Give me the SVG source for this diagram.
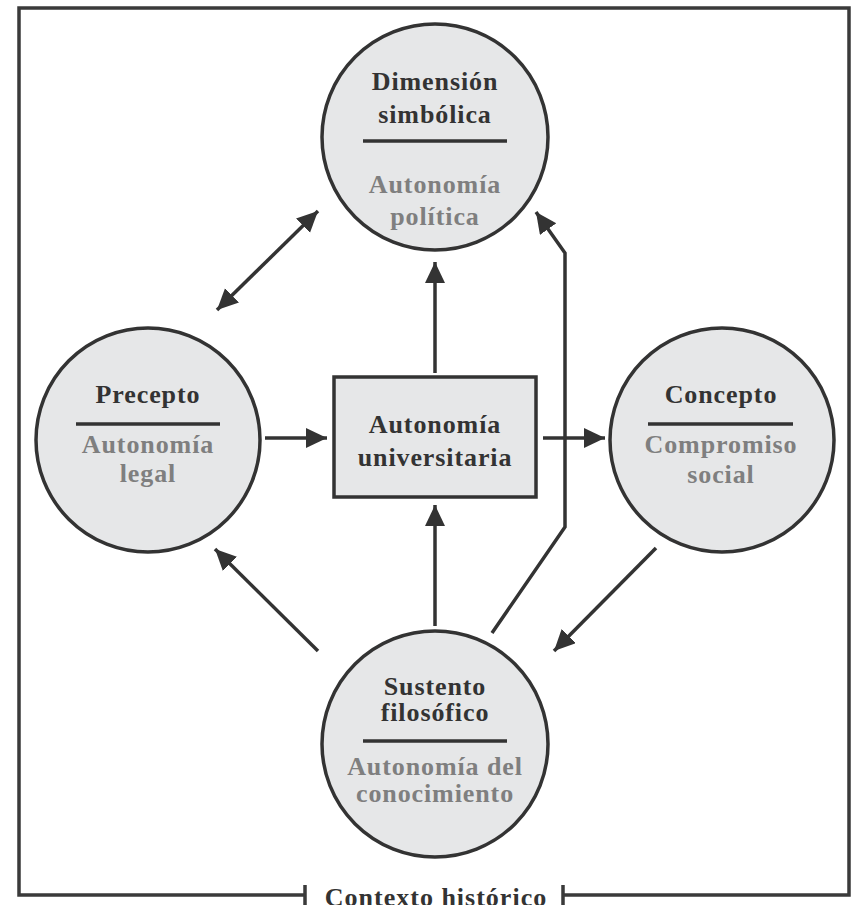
<svg xmlns="http://www.w3.org/2000/svg" width="856" height="905" viewBox="0 0 856 905">
<style>
.node circle, .node rect {fill:#e6e7e8; stroke:#333; stroke-width:3.5}
.t {font-family:"Liberation Serif","Times New Roman",serif; font-weight:bold; font-size:26px; letter-spacing:0.9px; text-anchor:middle; fill:#333}
.s {fill:#7f7f7f}
.div {stroke:#333; stroke-width:3.5}
.conn path {stroke:#333; stroke-width:3.5; fill:none}
.frame {stroke:#3a3a3a; stroke-width:3.5; fill:none}
</style>
<defs>
<marker id="ah" markerUnits="userSpaceOnUse" markerWidth="24" markerHeight="22" refX="21" refY="10" orient="auto-start-reverse">
<path d="M0,0 L21,10 L0,20 z" fill="#333"/>
</marker>
</defs>
<rect width="856" height="905" fill="#fff"/>
<g id="frame">
<path class="frame" d="M305,895 H19 V8 H849 V895 H563"/>
<path class="frame" d="M305,885 V905 M563,885 V905"/>
<text class="t" x="436" y="906" style="font-size:26px;letter-spacing:1px">Contexto histórico</text>
</g>
<g id="connectors" class="conn">
<path d="M217,310 L318,211" marker-start="url(#ah)" marker-end="url(#ah)"/>
<path d="M435,373 V262" marker-end="url(#ah)"/>
<path d="M265,438 H327" marker-end="url(#ah)"/>
<path d="M543,438 H605" marker-end="url(#ah)"/>
<path d="M435,626 V505" marker-end="url(#ah)"/>
<path d="M318,651 L215,549" marker-end="url(#ah)"/>
<path d="M656,548 L554,651" marker-end="url(#ah)"/>
<path d="M492,633 L565,527 L565,253 L536,212" marker-end="url(#ah)"/>
</g>
<g id="dimension" class="node">
<circle cx="435" cy="137" r="113"/>
<text class="t" x="435" y="90">Dimensión</text>
<text class="t" x="435" y="123">simbólica</text>
<line class="div" x1="363" y1="141" x2="507" y2="141"/>
<text class="t s" x="435" y="193">Autonomía</text>
<text class="t s" x="435" y="225">política</text>
</g>
<g id="precepto" class="node">
<circle cx="148" cy="440" r="112"/>
<text class="t" x="148" y="403">Precepto</text>
<line class="div" x1="76" y1="424" x2="220" y2="424"/>
<text class="t s" x="148" y="453">Autonomía</text>
<text class="t s" x="148" y="482">legal</text>
</g>
<g id="autonomia" class="node">
<rect x="334" y="377" width="202" height="120"/>
<text class="t" x="435" y="433">Autonomía</text>
<text class="t" x="435" y="466">universitaria</text>
</g>
<g id="concepto" class="node">
<circle cx="722" cy="440" r="112"/>
<text class="t" x="721" y="403">Concepto</text>
<line class="div" x1="648" y1="424" x2="793" y2="424"/>
<text class="t s" x="721" y="453">Compromiso</text>
<text class="t s" x="721" y="483">social</text>
</g>
<g id="sustento" class="node">
<circle cx="435" cy="744" r="113"/>
<text class="t" x="435" y="695">Sustento</text>
<text class="t" x="435" y="721">filosófico</text>
<line class="div" x1="363" y1="741" x2="507" y2="741"/>
<text class="t s" x="435" y="775">Autonomía del</text>
<text class="t s" x="435" y="802">conocimiento</text>
</g>
</svg>
